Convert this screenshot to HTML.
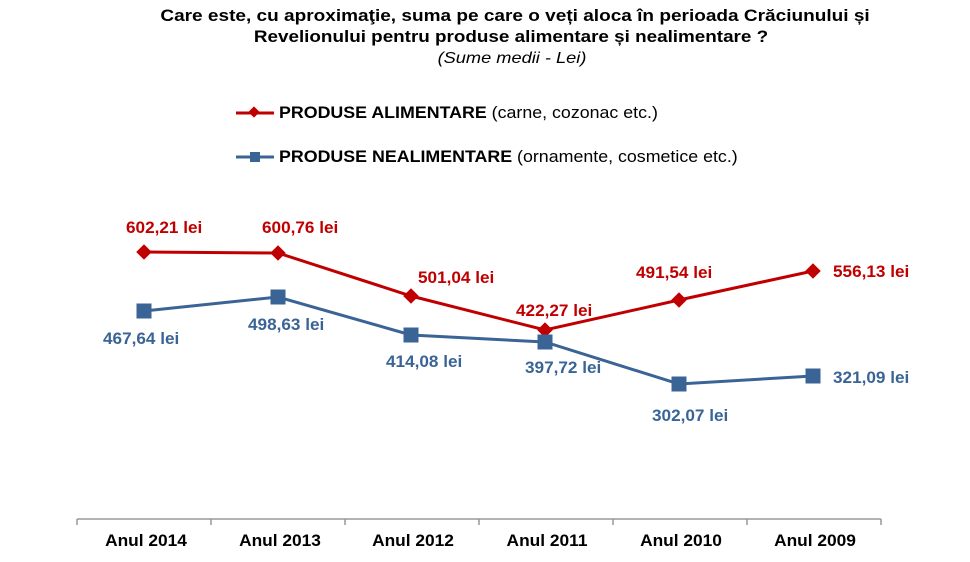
<!DOCTYPE html>
<html><head><meta charset="utf-8"><style>body{margin:0;background:#fff}svg{display:block}</style></head><body>
<svg width="970" height="562" xmlns="http://www.w3.org/2000/svg" font-family="Liberation Sans, Arial, sans-serif" font-weight="bold">
<text transform="translate(515,21) scale(1.12,1)" text-anchor="middle" font-size="17" fill="#000">Care este, cu aproximaţie, suma pe care o veți aloca în perioada Crăciunului și</text>
<text transform="translate(511,42) scale(1.11,1)" text-anchor="middle" font-size="17" fill="#000">Revelionului pentru produse alimentare și nealimentare ?</text>
<text transform="translate(512,63) scale(1.14,1)" text-anchor="middle" font-size="16" font-weight="normal" font-style="italic" fill="#000">(Sume medii - Lei)</text>
<line x1="236" y1="113" x2="274" y2="113" stroke="#c00000" stroke-width="3"/>
<rect x="250" y="108" width="8" height="8" transform="rotate(45 254 112)" fill="#c00000"/>
<text transform="translate(279,118) scale(1.08,1)" font-size="16.5" fill="#000">PRODUSE ALIMENTARE <tspan font-weight="normal">(carne, cozonac etc.)</tspan></text>
<line x1="236" y1="157" x2="274" y2="157" stroke="#3b6496" stroke-width="3"/>
<rect x="250" y="152" width="10" height="10" fill="#3b6496"/>
<text transform="translate(279,162) scale(1.08,1)" font-size="16.5" fill="#000">PRODUSE NEALIMENTARE <tspan font-weight="normal">(ornamente, cosmetice etc.)</tspan></text>
<line x1="77" y1="519" x2="881" y2="519" stroke="#999" stroke-width="1.5"/>
<g stroke="#999" stroke-width="1.5"><line x1="77" y1="519" x2="77" y2="525"/><line x1="211" y1="519" x2="211" y2="525"/><line x1="345" y1="519" x2="345" y2="525"/><line x1="479" y1="519" x2="479" y2="525"/><line x1="613" y1="519" x2="613" y2="525"/><line x1="747" y1="519" x2="747" y2="525"/><line x1="881" y1="519" x2="881" y2="525"/></g>
<g font-size="17" text-anchor="middle" fill="#000">
<text transform="translate(146,546) scale(1.02,1)">Anul 2014</text><text transform="translate(280,546) scale(1.02,1)">Anul 2013</text><text transform="translate(413,546) scale(1.02,1)">Anul 2012</text><text transform="translate(547,546) scale(1.02,1)">Anul 2011</text><text transform="translate(681,546) scale(1.02,1)">Anul 2010</text><text transform="translate(815,546) scale(1.02,1)">Anul 2009</text></g>
<polyline points="144,252 278,253 411,296 545,330 679,300 813,271" fill="none" stroke="#c00000" stroke-width="3"/>
<g fill="#c00000">
<rect x="138.5" y="246.5" width="11" height="11" transform="rotate(45 144 252)"/>
<rect x="272.5" y="247.5" width="11" height="11" transform="rotate(45 278 253)"/>
<rect x="405.5" y="290.5" width="11" height="11" transform="rotate(45 411 296)"/>
<rect x="539.5" y="324.5" width="11" height="11" transform="rotate(45 545 330)"/>
<rect x="673.5" y="294.5" width="11" height="11" transform="rotate(45 679 300)"/>
<rect x="807.5" y="265.5" width="11" height="11" transform="rotate(45 813 271)"/>
</g>
<polyline points="144,311 278,297 411,335 545,342 679,384 813,376" fill="none" stroke="#3b6496" stroke-width="3"/>
<g fill="#3b6496">
<rect x="136.5" y="303.5" width="15" height="15"/><rect x="270.5" y="289.5" width="15" height="15"/><rect x="403.5" y="327.5" width="15" height="15"/><rect x="537.5" y="334.5" width="15" height="15"/><rect x="671.5" y="376.5" width="15" height="15"/><rect x="805.5" y="368.5" width="15" height="15"/>
</g>
<g font-size="16.5" fill="#c00000">
<text transform="translate(126,233) scale(1.04,1)">602,21 lei</text><text transform="translate(262,233) scale(1.04,1)">600,76 lei</text><text transform="translate(418,283) scale(1.04,1)">501,04 lei</text><text transform="translate(516,316) scale(1.04,1)">422,27 lei</text><text transform="translate(636,278) scale(1.04,1)">491,54 lei</text><text transform="translate(833,277) scale(1.04,1)">556,13 lei</text></g>
<g font-size="16.5" fill="#3b6496">
<text transform="translate(103,344) scale(1.04,1)">467,64 lei</text><text transform="translate(248,330) scale(1.04,1)">498,63 lei</text><text transform="translate(386,367) scale(1.04,1)">414,08 lei</text><text transform="translate(525,373) scale(1.04,1)">397,72 lei</text><text transform="translate(652,421) scale(1.04,1)">302,07 lei</text><text transform="translate(833,383) scale(1.04,1)">321,09 lei</text></g>
</svg>
</body></html>
